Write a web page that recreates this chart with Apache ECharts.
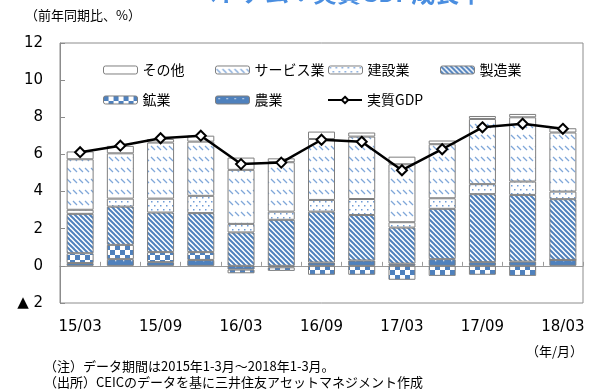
<!DOCTYPE html>
<html>
<head>
<meta charset="utf-8">
<script src="https://cdn.jsdelivr.net/npm/echarts@6/dist/echarts.min.js"></script>
<style>
  html, body { margin: 0; padding: 0; background: #fff; }
  #chart { width: 589px; height: 391px; }
</style>
</head>
<body>
<div id="chart"></div>
<script>
// Quarterly categories (yy/mm), every other one labelled
const categories = ['15/03','15/06','15/09','15/12','16/03','16/06','16/09','16/12','17/03','17/06','17/09','17/12','18/03'];

// Contribution by sector (percentage points)
const agriculture   = [0.15, 0.36, 0.20, 0.32, -0.20, -0.08, 0.18, 0.29, 0.12, 0.36, 0.20, 0.23, 0.32];
const mining        = [0.53, 0.77, 0.54, 0.42, -0.20, -0.19, -0.48, -0.48, -0.75, -0.54, -0.48, -0.54, 0];
const manufacturing = [2.12, 2.06, 2.13, 2.10, 1.80, 2.48, 2.74, 2.45, 1.94, 2.71, 3.66, 3.59, 3.27];
const construction  = [0.22, 0.43, 0.75, 0.93, 0.46, 0.44, 0.63, 0.86, 0.29, 0.57, 0.54, 0.72, 0.41];
const services      = [2.72, 2.44, 3.02, 2.92, 2.91, 2.66, 3.28, 3.36, 3.12, 2.91, 3.51, 3.46, 3.18];
const others        = [0.42, 0.40, 0.19, 0.32, 0.66, 0.21, 0.40, 0.22, 0.41, 0.20, 0.16, 0.18, 0.23];

// Real GDP growth, y/y %
const realGdp = [6.12, 6.47, 6.87, 7.01, 5.48, 5.56, 6.79, 6.68, 5.15, 6.28, 7.46, 7.65, 7.38];

const BLUE = '#4f81bd';
const LIGHT = '#7fa7d9';
const EDGE = '#7f7f7f';
const FONT = '"Noto Sans CJK JP", "Noto Sans", sans-serif';

function tile(w, h, draw) {
  const c = document.createElement('canvas');
  c.width = w; c.height = h;
  const g = c.getContext('2d');
  draw(g, w, h);
  return { image: c, repeat: 'repeat' };
}

// fill patterns for each sector
const patStripes = tile(5, 5, (g, w, h) => {
  g.fillStyle = '#fff'; g.fillRect(0, 0, w, h);
  g.strokeStyle = BLUE; g.lineWidth = 2;
  for (let k = -w; k <= w; k += w) {
    g.beginPath(); g.moveTo(k - 1, -1); g.lineTo(k + w + 1, h + 1); g.stroke();
  }
});
const patDashes = tile(6, 11, (g, w, h) => {
  g.fillStyle = '#fff'; g.fillRect(0, 0, w, h);
  g.strokeStyle = LIGHT; g.lineWidth = 1.3;
  g.beginPath(); g.moveTo(1, 3); g.lineTo(5, 7); g.stroke();
});
const patDots = tile(6, 8, (g, w, h) => {
  g.fillStyle = '#fff'; g.fillRect(0, 0, w, h);
  g.fillStyle = '#6f9bd6';
  g.fillRect(1, 1, 1.5, 1.5);
  g.fillRect(4, 5, 1.5, 1.5);
});
const patChecker = tile(10, 10, (g, w, h) => {
  g.fillStyle = '#fff'; g.fillRect(0, 0, w, h);
  g.fillStyle = BLUE;
  g.fillRect(0, 0, 5, 5); g.fillRect(5, 5, 5, 5);
});
const patSolidDots = tile(8, 6, (g, w, h) => {
  g.fillStyle = BLUE; g.fillRect(0, 0, w, h);
  g.fillStyle = '#dfe8f5';
  g.fillRect(3, 2, 1.3, 1.3);
});

function barSeries(name, data, fill) {
  return {
    name, type: 'bar', stack: 'total', data,
    barWidth: 27,
    itemStyle: { color: fill, borderColor: EDGE, borderWidth: 1 },
    emphasis: { disabled: true }
  };
}

const chart = echarts.init(document.getElementById('chart'), null, { renderer: 'canvas' });

const legendText = { fontSize: 14, color: '#000', fontFamily: FONT };
function legendAt(name, left, top) {
  return {
    data: [name], left, top, padding: 0, itemGap: 0,
    itemWidth: 34, itemHeight: 8, itemStyle: { borderColor: EDGE, borderWidth: 1 },
    textStyle: legendText, selectedMode: false
  };
}

chart.setOption({
  animation: false,
  backgroundColor: '#fff',
  grid: { left: 60, right: 6, top: 43, bottom: 88, show: true, borderColor: '#8c8c8c', borderWidth: 1 },
  legend: [
    legendAt('その他', 103, 63),
    legendAt('サービス業', 215, 63),
    legendAt('建設業', 328, 63),
    legendAt('製造業', 440, 63),
    legendAt('鉱業', 103, 93),
    legendAt('農業', 215, 93),
    Object.assign(legendAt('実質GDP', 327, 93), { itemStyle: {} })
  ],
  xAxis: [
    {
      type: 'category', data: categories,
      axisLine: { onZero: true, lineStyle: { color: '#9a9a9a', width: 1 } },
      axisTick: { show: true, inside: true, length: 4, interval: 0, lineStyle: { color: '#9a9a9a' } },
      axisLabel: { show: false }
    },
    {
      type: 'category', data: categories, position: 'bottom',
      axisLine: { show: false, onZero: false }, axisTick: { show: false },
      axisLabel: { interval: 1, margin: 17, fontSize: 15, color: '#000', fontFamily: 'DejaVu Sans' }
    }
  ],
  yAxis: {
    type: 'value', min: -2, max: 12, interval: 2,
    axisLine: { show: true, lineStyle: { color: '#8c8c8c' } },
    axisTick: { show: true, inside: true, length: 5, lineStyle: { color: '#8c8c8c' } },
    splitLine: { show: false },
    axisLabel: {
      margin: 17, fontSize: 15, color: '#000', fontFamily: 'DejaVu Sans',
      formatter: v => v < 0 ? '▲ ' + (-v) : String(v)
    }
  },
  series: [
    barSeries('農業', agriculture, patSolidDots),
    barSeries('鉱業', mining, patChecker),
    barSeries('製造業', manufacturing, patStripes),
    barSeries('建設業', construction, patDots),
    barSeries('サービス業', services, patDashes),
    barSeries('その他', others, '#fff'),
    {
      name: '実質GDP', type: 'line', data: realGdp, z: 5,
      symbol: 'diamond', symbolSize: 10,
      itemStyle: { color: '#fff', borderColor: '#000', borderWidth: 2 },
      lineStyle: { color: '#000', width: 2.5 },
      emphasis: { disabled: true }
    }
  ],
  graphic: [
    { type: 'text', left: 193, top: -19, style: { text: 'ベトナム：実質GDP成長率', fill: '#4a8ee0', font: 'bold 24px ' + FONT } },
    { type: 'text', left: 25, top: 9, style: { text: '（前年同期比、%）', fill: '#000', font: '13px ' + FONT } },
    { type: 'text', right: 6, top: 345, style: { text: '（年/月）', fill: '#000', font: '13px ' + FONT } },
    { type: 'text', left: 44, top: 360, style: { text: '（注）データ期間は2015年1-3月～2018年1-3月。', fill: '#000', font: '13px ' + FONT } },
    { type: 'text', left: 44, top: 376, style: { text: '（出所）CEICのデータを基に三井住友アセットマネジメント作成', fill: '#000', font: '13px ' + FONT } }
  ]
});
</script>
</body>
</html>
